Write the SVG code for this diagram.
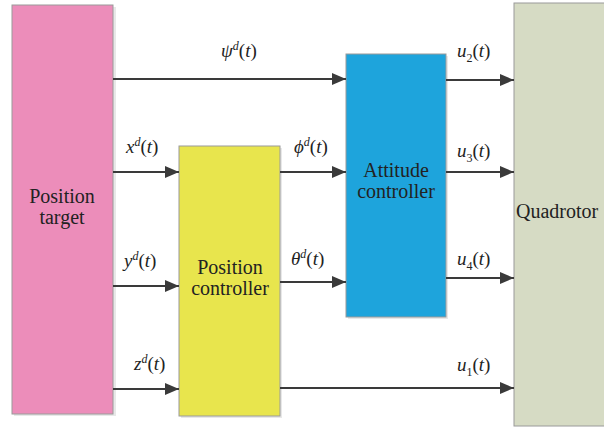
<svg xmlns="http://www.w3.org/2000/svg" width="604" height="428" viewBox="0 0 604 428">
<style>
.box{stroke:#9a9a9a;stroke-width:1}
.sh{fill:#d8d8d8;opacity:0.6}
text{font-family:'Liberation Serif','DejaVu Serif',serif;fill:#222}
.lbl{font-size:20px}
.m{font-size:19px;font-style:italic}
.up{font-style:normal}
.sup{font-size:12px}
.conn line{stroke:#3a3a3a;stroke-width:2.2;marker-end:url(#ah)}
</style>
<defs>
<marker id="ah" markerWidth="14" markerHeight="12" refX="14" refY="6" orient="auto" markerUnits="userSpaceOnUse">
<path d="M0,0 L14,6 L0,12 Z" fill="#3a3a3a"/>
</marker>
</defs>
<rect width="604" height="428" fill="#fff"/>
<g id="position-target">
<rect class="sh" x="14" y="7" width="102" height="409"/>
<rect class="box" x="12" y="5" width="101" height="409" fill="#ec8dba"/>
<text class="lbl" x="62" y="203" text-anchor="middle" font-family="Liberation Serif, serif">Position</text>
<text class="lbl" x="62" y="224" text-anchor="middle" font-family="Liberation Serif, serif">target</text>
</g>
<g id="position-controller">
<rect class="sh" x="181" y="148" width="101" height="270"/>
<rect class="box" x="179" y="146" width="101" height="270" fill="#e8e54d"/>
<text class="lbl" x="230" y="274" text-anchor="middle">Position</text>
<text class="lbl" x="230" y="295" text-anchor="middle">controller</text>
</g>
<g id="attitude-controller">
<rect class="sh" x="348" y="56" width="100" height="263"/>
<rect class="box" x="346" y="54" width="100" height="263" fill="#1ea4dc"/>
<text class="lbl" x="396" y="177" text-anchor="middle">Attitude</text>
<text class="lbl" x="396" y="198" text-anchor="middle">controller</text>
</g>
<g id="quadrotor">
<rect class="box" x="514" y="3" width="100" height="423" fill="#d6dbc4"/>
<text class="lbl" x="516" y="218">Quadrotor</text>
</g>
<g class="conn" id="connectors">
<line x1="113" y1="79" x2="346" y2="79"/>
<line x1="113" y1="172" x2="179" y2="172"/>
<line x1="113" y1="286" x2="179" y2="286"/>
<line x1="113" y1="389" x2="179" y2="389"/>
<line x1="280" y1="172" x2="346" y2="172"/>
<line x1="280" y1="282" x2="346" y2="282"/>
<line x1="446" y1="80" x2="514" y2="80"/>
<line x1="446" y1="172" x2="514" y2="172"/>
<line x1="446" y1="278" x2="514" y2="278"/>
<line x1="280" y1="388" x2="514" y2="388"/>
</g>
<g id="labels">
<text class="m" x="221" y="57">ψ<tspan class="sup" dy="-7">d</tspan><tspan class="up" dy="7">(</tspan>t<tspan class="up">)</tspan></text>
<text class="m" x="126" y="153">x<tspan class="sup" dy="-7">d</tspan><tspan class="up" dy="7">(</tspan>t<tspan class="up">)</tspan></text>
<text class="m" x="124" y="267">y<tspan class="sup" dy="-7">d</tspan><tspan class="up" dy="7">(</tspan>t<tspan class="up">)</tspan></text>
<text class="m" x="134" y="370">z<tspan class="sup" dy="-7">d</tspan><tspan class="up" dy="7">(</tspan>t<tspan class="up">)</tspan></text>
<text class="m" x="294" y="153">ϕ<tspan class="sup" dy="-7">d</tspan><tspan class="up" dy="7">(</tspan>t<tspan class="up">)</tspan></text>
<text class="m" x="291" y="265">θ<tspan class="sup" dy="-7">d</tspan><tspan class="up" dy="7">(</tspan>t<tspan class="up">)</tspan></text>
<text class="m" x="457" y="57">u<tspan class="sup up" dy="5">2</tspan><tspan class="up" dy="-5">(</tspan>t<tspan class="up">)</tspan></text>
<text class="m" x="457" y="157">u<tspan class="sup up" dy="5">3</tspan><tspan class="up" dy="-5">(</tspan>t<tspan class="up">)</tspan></text>
<text class="m" x="457" y="265">u<tspan class="sup up" dy="5">4</tspan><tspan class="up" dy="-5">(</tspan>t<tspan class="up">)</tspan></text>
<text class="m" x="457" y="371">u<tspan class="sup up" dy="5">1</tspan><tspan class="up" dy="-5">(</tspan>t<tspan class="up">)</tspan></text>
</g>
</svg>
